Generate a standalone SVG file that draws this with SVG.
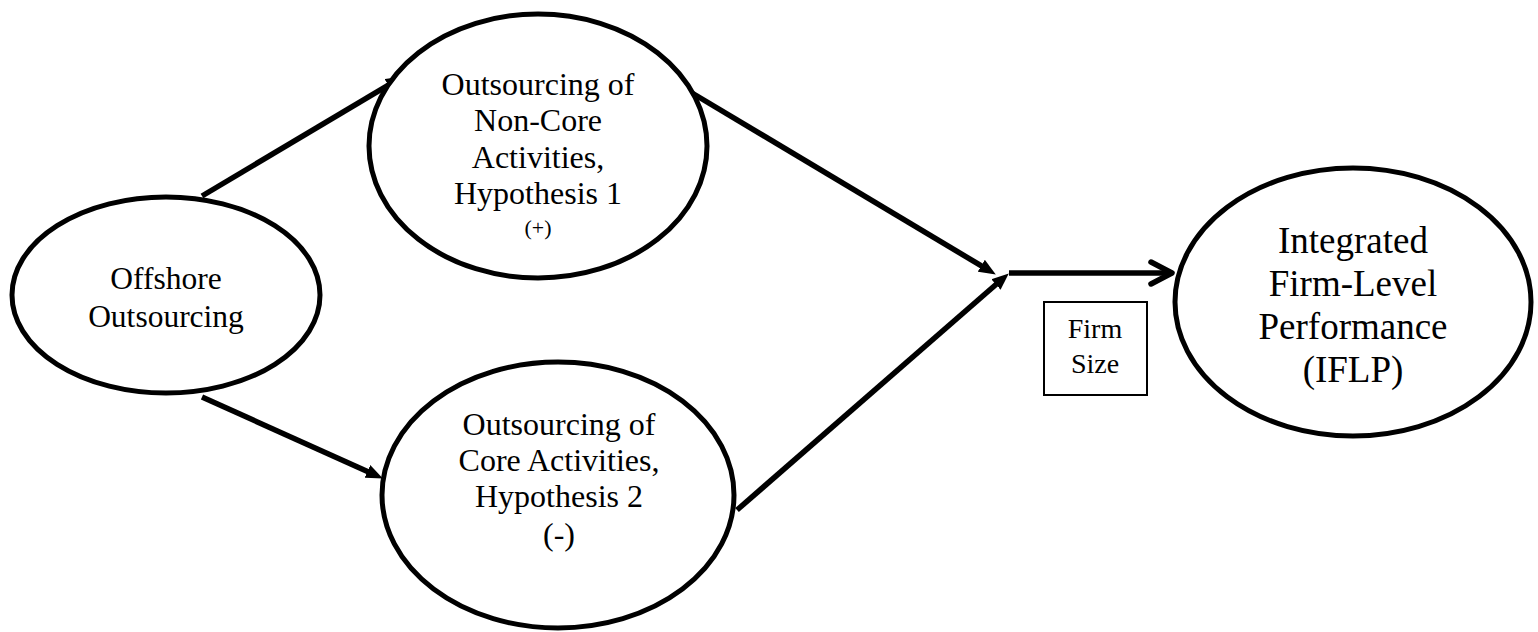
<svg xmlns="http://www.w3.org/2000/svg" width="1538" height="632" viewBox="0 0 1538 632">
<style>
.node{fill:#fff;stroke:#000;stroke-width:5}
.t{font-family:"Liberation Serif","Times New Roman",serif;fill:#000;text-anchor:middle}
.c{stroke:#000;stroke-width:5.5;fill:none}
</style>
<defs>
<marker id="ah" markerUnits="userSpaceOnUse" markerWidth="17" markerHeight="15" refX="8" refY="7" orient="auto" viewBox="0 0 17 14">
<path d="M0,0 L17,7 L0,14 z" fill="#000"/>
</marker>
</defs>
<rect width="1538" height="632" fill="#fff"/>
<g id="connectors">
<line class="c" x1="202" y1="196" x2="395.1" y2="81.1" marker-end="url(#ah)"/>
<line class="c" x1="202" y1="397" x2="374.7" y2="474.7" marker-end="url(#ah)"/>
<line class="c" x1="687" y1="90" x2="988.1" y2="269.9" marker-end="url(#ah)"/>
<line class="c" x1="737" y1="510" x2="1002" y2="279.3" marker-end="url(#ah)"/>
<line class="c" x1="1009" y1="273" x2="1170" y2="273"/>
<polyline class="c" points="1151,262 1172,273 1151,284" stroke-linecap="round" stroke-linejoin="round"/>
</g>
<g id="offshore">
<ellipse class="node" cx="166" cy="295" rx="154" ry="98"/>
<text class="t" font-size="31.5" x="166" y="289">Offshore</text>
<text class="t" font-size="31.5" x="166" y="327">Outsourcing</text>
</g>
<g id="noncore">
<ellipse class="node" cx="538" cy="146" rx="169" ry="132"/>
<text class="t" font-size="32" x="538" y="95">Outsourcing of</text>
<text class="t" font-size="32" x="538" y="131">Non-Core</text>
<text class="t" font-size="32" x="538" y="168">Activities,</text>
<text class="t" font-size="32" x="538" y="204">Hypothesis 1</text>
<text class="t" font-size="22" x="538" y="235">(+)</text>
</g>
<g id="core">
<ellipse class="node" cx="558" cy="495" rx="176" ry="133"/>
<text class="t" font-size="32" x="559" y="435">Outsourcing of</text>
<text class="t" font-size="32" x="559" y="471">Core Activities,</text>
<text class="t" font-size="32" x="559" y="507">Hypothesis 2</text>
<text class="t" font-size="32" x="559" y="545">(-)</text>
</g>
<g id="firmsize">
<rect x="1044" y="302" width="103" height="93" fill="#fff" stroke="#000" stroke-width="2"/>
<text class="t" font-size="28" x="1095" y="338">Firm</text>
<text class="t" font-size="28" x="1095" y="373">Size</text>
</g>
<g id="iflp">
<ellipse class="node" cx="1353" cy="302" rx="178" ry="134"/>
<text class="t" font-size="37" x="1353" y="253">Integrated</text>
<text class="t" font-size="37" x="1353" y="296">Firm-Level</text>
<text class="t" font-size="37" x="1353" y="339">Performance</text>
<text class="t" font-size="37" x="1353" y="382">(IFLP)</text>
</g>
</svg>
